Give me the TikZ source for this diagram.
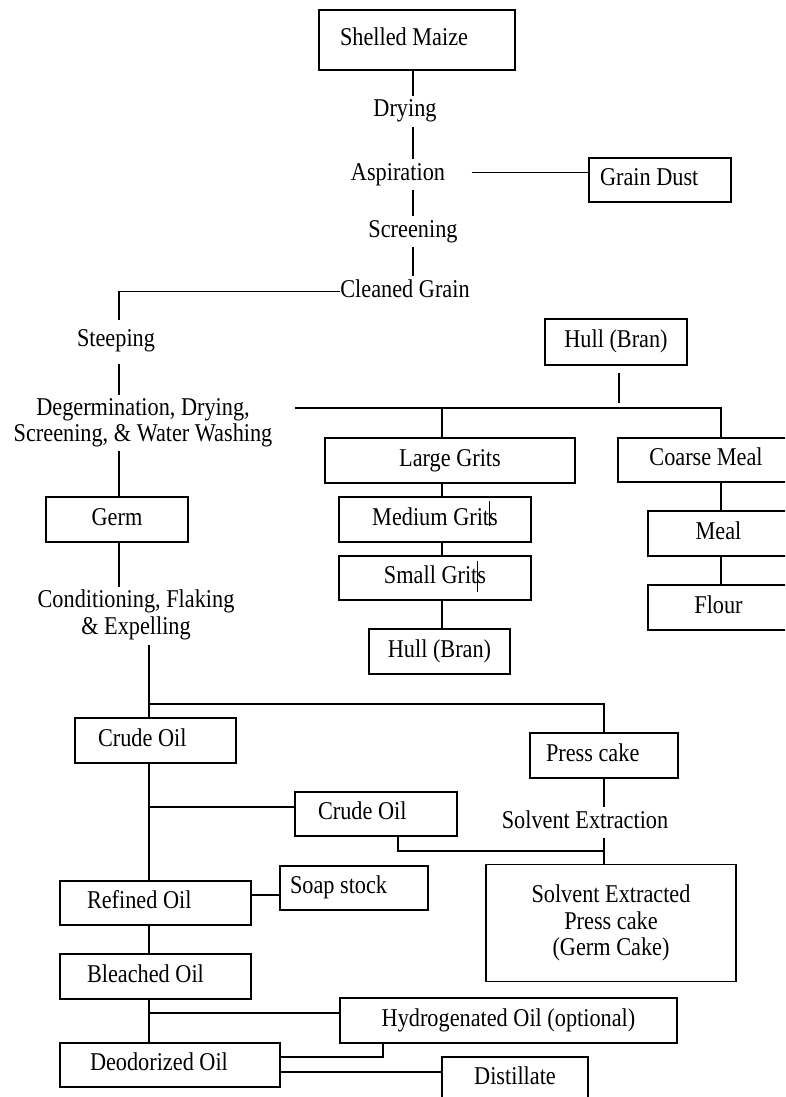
\documentclass[tikz,border=0pt]{standalone}
\usepackage{fontspec}
\setmainfont{Liberation Serif}[FakeStretch=0.87]
\usetikzlibrary{calc}
\begin{document}
\begin{tikzpicture}[x=1pt,y=-1pt,
  font=\fontsize{25.6pt}{26.5pt}\selectfont,
  frame/.style={draw, line width=1.5pt, inner xsep=0pt, inner ysep=0pt},
  oneline/.style={text height=18pt, text depth=6.5pt},
  cbox/.style 2 args={frame, oneline, minimum width=#1, minimum height=#2, align=center},
  lbox/.style n args={3}{frame, oneline, minimum height=#1, inner xsep=#2, text width=#3, align=flush left},
  lbl/.style={inner xsep=0pt, inner ysep=3pt, oneline},
  mlbl/.style={inner xsep=0pt, inner ysep=3pt, align=center},
  link/.style={line width=1.3pt},
]
\useasboundingbox (0,0) rectangle (785,1097);
\clip (0,0) rectangle (785,1097);

% column positions of the vertical runs
\coordinate (sp)  at (413,0);
\coordinate (lsp) at (119,0);
\coordinate (msp) at (442,0);
\coordinate (rsp) at (721,0);
\coordinate (osp) at (149,0);
\coordinate (cx2) at (398,0);
\coordinate (hx)  at (383,0);

% cleaning
\node[lbox={60pt}{21pt}{154pt}] (sm) at (417,40) {Shelled Maize};
\node[lbl, anchor=base] (dry) at (405,117) {Drying};
\node[lbl, anchor=base] (asp) at (398,180) {Aspiration};
\node[lbox={44pt}{11pt}{120pt}] (gd) at (660,180) {Grain Dust};
\node[lbl, anchor=base] (scr) at (413,237) {Screening};
\node[lbl, anchor=base] (cg) at (405,297) {Cleaned Grain};

% milling
\node[lbl, anchor=base] (stp) at (116,346) {Steeping};
\node[mlbl] (deg) at (143,423) {Degermination, Drying,\\Screening, \& Water Washing};
\node[cbox={142pt}{46pt}] (hull1) at (616,342) {Hull (Bran)};
\node[cbox={250pt}{45pt}] (lg) at (450,460.5) {Large Grits};
\node[cbox={176pt}{44pt}] (cm) at (706,460) {Coarse Meal};
\node[cbox={192pt}{45pt}] (mg) at (435,519.5) {Medium Grits};
\node[cbox={192pt}{44pt}] (sg) at (435,578) {Small Grits};
\node[cbox={141pt}{45pt}] (hull2) at (439.5,651.5) {Hull (Bran)};
\node[cbox={141pt}{45pt}] (meal) at (718.5,533.5) {Meal};
\node[cbox={141pt}{45pt}] (flour) at (718.5,607.5) {Flour};
\node[cbox={142pt}{45pt}] (germ) at (117,519.5) {Germ};

% oil line
\node[mlbl] (cfe) at (136,615) {Conditioning, Flaking\\\& Expelling};
\node[lbox={45pt}{23pt}{115pt}] (co1) at (155.5,740.5) {Crude Oil};
\node[lbox={45pt}{16pt}{116pt}] (pc) at (604,755.5) {Press cake};
\node[lbox={44pt}{23pt}{116pt}] (co2) at (376,814) {Crude Oil};
\node[lbl, anchor=base] (sx) at (585,828) {Solvent Extraction};
\node[lbox={44pt}{27pt}{137pt}] (ro) at (155.5,903) {Refined Oil};
\node[lbox={44pt}{10pt}{128pt}] (ss) at (354,888) {Soap stock};
\node[frame, minimum width=250pt, minimum height=117pt, align=center] (sec) at (611,923) {Solvent Extracted\\Press cake\\(Germ Cake)};
\node[lbox={45pt}{27pt}{137pt}] (bo) at (155.5,976.5) {Bleached Oil};
\node[cbox={337pt}{45pt}] (ho) at (508.5,1020.5) {Hydrogenated Oil (optional)};
\node[lbox={44pt}{30pt}{160pt}] (do) at (170,1065) {Deodorized Oil};
\node[cbox={146pt}{44pt}] (dist) at (515,1079) {Distillate};

% cleaning connectors
\draw[link] (sm.south -| sp) -- (dry.north -| sp);
\draw[link] (dry.south -| sp) -- (asp.north -| sp);
\draw[link] (asp.south -| sp) -- (scr.north -| sp);
\draw[link] (scr.south -| sp) -- (cg.north -| sp);
\draw[link] ($(asp.east)+(26.5,-2)$) coordinate (gdl) -- (gdl -| gd.west);

% milling connectors
\draw[link, shorten >=5pt] (cg.west) -| (lsp |- stp.north);
\draw[link] ($(lsp |- stp.south)+(0,8.5)$) -- (lsp |- deg.north);
\draw[link] (lsp |- deg.south) -- (lsp |- germ.north);
\coordinate (hs) at (295,408);
\draw[link] (hs) -- (hs -| rsp) -- (rsp |- cm.north);
\draw[link] (hs -| msp) -- (msp |- lg.north);
\draw[link] ($(hull1.south)+(3,7)$) -- ($(hull1.south)+(3,37)$);
\draw[link] (msp |- lg.south) -- (msp |- mg.north);
\draw[link] (msp |- mg.south) -- (msp |- sg.north);
\draw[link] (msp |- sg.south) -- (msp |- hull2.north);
\draw[line width=1pt] ($(mg.north)+(54,5)$) -- ++(0,25);
\draw[line width=1pt] ($(sg.north)+(42,6)$) -- ++(0,31);
\draw[link] (rsp |- cm.south) -- (rsp |- meal.north);
\draw[link] (rsp |- meal.south) -- (rsp |- flour.north);

% oil connectors
\draw[link] (lsp |- germ.south) -- (lsp |- cfe.north);
\draw[link] ($(osp |- cfe.south)+(0,2)$) -- (osp |- co1.north);
\coordinate (jy) at (0,704);
\draw[link] (osp |- jy) -| (pc.north);
\draw[link] (osp |- co1.south) -- (osp |- ro.north);
\coordinate (cy) at (0,807);
\draw[link] (osp |- cy) -- (co2.west |- cy);
\coordinate (ky) at (0,851);
\draw[link] (cx2 |- co2.south) |- (pc.south |- ky);
\draw[link] (pc.south) -- (pc.south |- sx.north);
\draw[link] (pc.south |- sx.south) -- (pc.south |- sec.north);
\coordinate (sy) at (0,895);
\draw[link] (ro.east |- sy) -- (ss.west |- sy);
\draw[link] (osp |- ro.south) -- (osp |- bo.north);
\draw[link] (osp |- bo.south) -- (osp |- do.north);
\coordinate (hy2) at (0,1013);
\draw[link] (osp |- hy2) -- (ho.west |- hy2);
\coordinate (hy3) at (0,1057);
\draw[link] (hx |- ho.south) |- (do.east |- hy3);
\coordinate (dy) at (0,1072);
\draw[link] (do.east |- dy) -- (dist.west |- dy);
\end{tikzpicture}
\end{document}
